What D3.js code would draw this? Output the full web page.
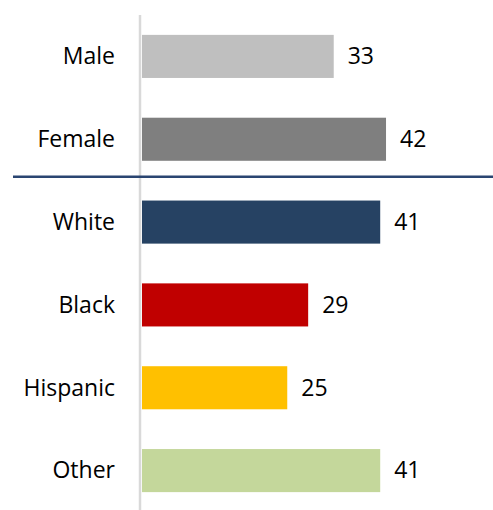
<!DOCTYPE html>
<html>
<head>
<meta charset="utf-8">
<script src="https://cdn.jsdelivr.net/npm/d3@7"></script>
<style>
  html, body { margin: 0; padding: 0; background: #fff; }
  svg { display: block; }
  text { font-family: "Open Sans", "Noto Sans", sans-serif; fill: #000; }
</style>
</head>
<body>
<svg id="chart" width="493" height="510"></svg>
<script>
const categories = ["Male", "Female", "White", "Black", "Hispanic", "Other"];
const values = [33, 42, 41, 28.6, 25, 41];
const colors = ["#bfbfbf", "#7f7f7f", "#264263", "#c00000", "#ffc000", "#c4d79b"];
const separatorAfter = "Female";

const svg = d3.select("#chart");
const W = 493, H = 510;

const x = d3.scaleLinear().domain([0, 50]).range([142, 142 + 50 * 5.81]);
const y = d3.scaleBand().domain(categories).range([15, 512])
  .paddingInner(0.48).paddingOuter(0.24);

const data = categories.map((c, i) => ({ c, v: values[i], color: colors[i] }));

// bars
svg.append("g").selectAll("rect").data(data).join("rect")
  .attr("x", x(0))
  .attr("y", d => y(d.c))
  .attr("width", d => x(d.v) - x(0))
  .attr("height", y.bandwidth())
  .attr("fill", d => d.color);

// vertical axis line
svg.append("line")
  .attr("x1", x(0) - 2).attr("x2", x(0) - 2)
  .attr("y1", 15).attr("y2", H)
  .attr("stroke", "#d9d9d9").attr("stroke-width", 2.5);

// separator
const sepY = (y(separatorAfter) + y.bandwidth() + y(categories[categories.indexOf(separatorAfter) + 1])) / 2 - 4;
svg.append("line")
  .attr("x1", 13).attr("x2", W)
  .attr("y1", sepY).attr("y2", sepY)
  .attr("stroke", "#2a4571").attr("stroke-width", 2.5);

// category labels
svg.append("g").selectAll("text").data(data).join("text")
  .attr("x", 115)
  .attr("y", d => y(d.c) + y.bandwidth() / 2)
  .attr("dy", "0.34em")
  .attr("text-anchor", "end")
  .style("font-size", "23px")
  .text(d => d.c);

// value labels
const fmt = d3.format(".0f");
svg.append("g").selectAll("text").data(data).join("text")
  .attr("x", d => x(d.v) + 14)
  .attr("y", d => y(d.c) + y.bandwidth() / 2)
  .attr("dy", "0.34em")
  .attr("text-anchor", "start")
  .style("font-size", "23px")
  .text(d => fmt(d.v));
</script>
</body>
</html>
